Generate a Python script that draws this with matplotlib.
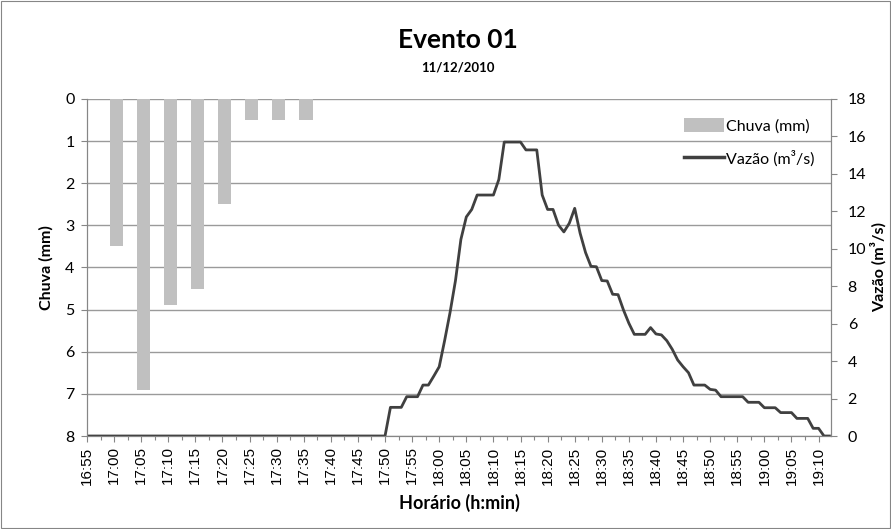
import numpy as np
import pandas as pd
import matplotlib
matplotlib.use('Agg')
import matplotlib.pyplot as plt
from matplotlib.ticker import MultipleLocator
from matplotlib.patches import Patch, Rectangle
from matplotlib.lines import Line2D

# --- data ---
inicio = '16:55'
chuva_hora = ['17:00', '17:05', '17:10', '17:15', '17:20', '17:25', '17:30', '17:35']
chuva_mm = [3.5, 6.9, 4.9, 4.5, 2.5, 0.5, 0.5, 0.5]

# discharge, one value per minute from 16:55 to 19:12
vazao_m3s = (
    [0.0] * 56 +                                    # 16:55 - 17:50
    [1.53, 1.53, 1.53, 2.10, 2.10, 2.10, 2.72, 2.72, 3.20,  # 17:51 - 17:59
     3.70, 5.10, 6.60, 8.30, 10.50, 11.70, 12.10, 12.87, 12.87, 12.87,  # 18:00 - 18:09
     12.87, 13.70, 15.70, 15.70, 15.70, 15.70, 15.28, 15.28, 15.28, 12.87,  # 18:10 - 18:19
     12.10, 12.10, 11.27, 10.90, 11.36, 12.16, 10.83, 9.80, 9.06, 9.04,  # 18:20 - 18:29
     8.30, 8.28, 7.57, 7.55, 6.73, 6.02, 5.43, 5.43, 5.43, 5.79,  # 18:30 - 18:39
     5.45, 5.40, 5.09, 4.63, 4.06, 3.70, 3.38, 2.72, 2.72, 2.72,  # 18:40 - 18:49
     2.49, 2.45, 2.10, 2.10, 2.10, 2.10, 2.10, 1.80, 1.80, 1.80,  # 18:50 - 18:59
     1.51, 1.51, 1.51, 1.25, 1.25, 1.25, 0.94, 0.94, 0.94, 0.41,  # 19:00 - 19:09
     0.41, 0.0, 0.0]                                # 19:10 - 19:12
)

tick_labels = pd.date_range('2010-12-11 16:55', '2010-12-11 19:10', freq='5min').strftime('%H:%M').tolist()

# --- convert times to minutes since start ---
t0 = pd.to_datetime(inicio, format='%H:%M')
def minutos(h):
    return (pd.to_datetime(h, format='%H:%M') - t0) / pd.Timedelta(minutes=1)

x_chuva = np.array([minutos(h) for h in chuva_hora])
x_vazao = np.arange(len(vazao_m3s))
x_ticks = np.array([minutos(h) for h in tick_labels])

# --- plot ---
plt.rcParams['font.family'] = ['Lato', 'DejaVu Sans']

fig = plt.figure(figsize=(8.91, 5.29), dpi=100)
ax1 = fig.add_axes([0.0976, 0.1758, 0.9327 - 0.0976, 0.8129 - 0.1758])
ax2 = ax1.twinx()

ax1.bar(x_chuva + 0.4, chuva_mm, width=2.45, color='#c0c0c0', zorder=2)
ax2.plot(x_vazao, vazao_m3s, color='#404040', lw=2.0, solid_joinstyle='round')

ax1.set_ylim(8, 0)
ax1.yaxis.set_major_locator(MultipleLocator(1))
ax2.set_ylim(0, 18)
ax2.yaxis.set_major_locator(MultipleLocator(2))
ax1.set_xlim(0, 137.3)

ax1.set_xticks(x_ticks)
ax1.set_xticklabels(tick_labels, rotation=90, fontsize=11, family='Liberation Sans')
ax1.xaxis.set_minor_locator(MultipleLocator(2.5))

ax1.grid(axis='y', color='#9a9a9a', lw=1.0, zorder=0)
ax1.set_axisbelow(True)

for ax in (ax1, ax2):
    for s in ax.spines.values():
        s.set_color('#868686')
    ax.spines['top'].set_visible(False)
    ax.tick_params(which='both', color='#868686', length=4, width=0.8)
ax1.tick_params(axis='x', which='minor', length=3)
ax1.tick_params(axis='y', labelsize=11.5, pad=5)
ax2.tick_params(axis='y', labelsize=11.5, pad=8)

ax1.set_ylabel('Chuva (mm)', fontsize=11.5, fontweight='bold', labelpad=8)
ax2.set_ylabel('Vazão (m³/s)', fontsize=11.5, fontweight='bold', labelpad=3)
ax1.set_xlabel('Horário (h:min)', fontsize=13, fontweight='bold', labelpad=7)

fig.text(0.514, 0.925, 'Evento 01', ha='center', va='center', fontsize=19, fontweight='bold')
fig.text(0.514, 0.873, '11/12/2010', ha='center', va='center', fontsize=9.5, fontweight='bold')

handles = [Patch(facecolor='#c0c0c0', edgecolor='none'),
           Line2D([0], [0], color='#404040', lw=2.5)]
fig.legend(handles, ['Chuva (mm)', 'Vazão (m³/s)'], loc='upper right',
           bbox_to_anchor=(814 / 891, 1 - 118 / 529), frameon=False, fontsize=11.5,
           handlelength=2.5, handleheight=1.0, handletextpad=0.1, labelspacing=1.05,
           borderpad=0, borderaxespad=0)

fig.patches.append(Rectangle((0.001, 0.001), 0.998, 0.998, transform=fig.transFigure,
                             fill=False, edgecolor='#868686', lw=0.8))

fig.savefig('out.png', dpi=100)
